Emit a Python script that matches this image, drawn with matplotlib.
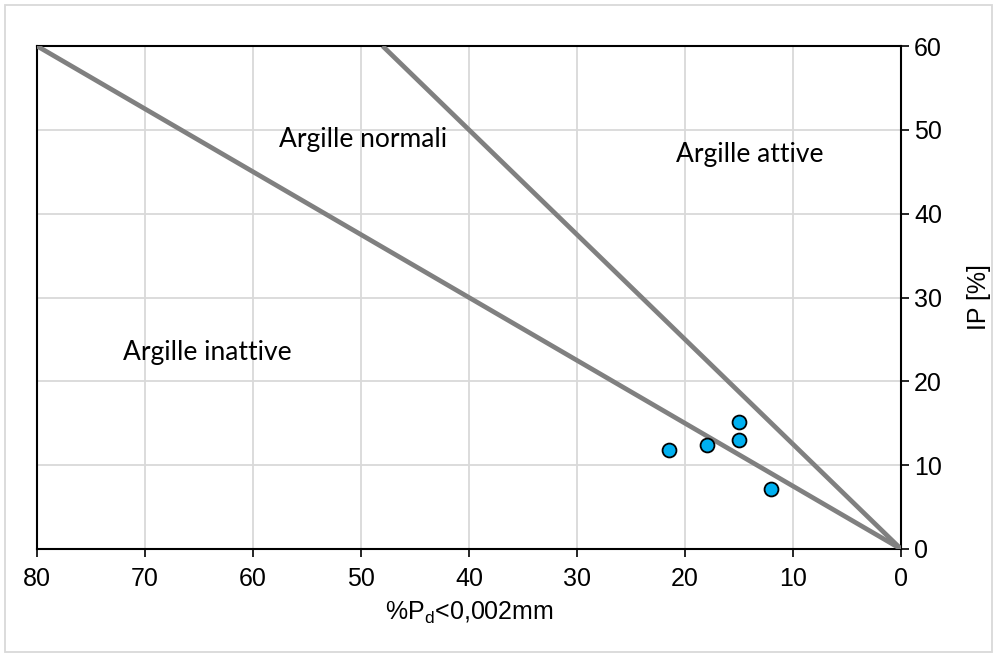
import numpy as np
import matplotlib.pyplot as plt
from matplotlib.patches import Rectangle

plt.rcParams['font.family'] = ['Liberation Sans', 'DejaVu Sans']

# data points (clay fraction %, plasticity index %)
clay = [21.5, 18.0, 15.0, 15.0, 12.0]
ip = [11.8, 12.4, 15.2, 13.0, 7.1]

# activity boundary lines (Skempton): A = 0.75 and A = 1.25
line_low_x = [80, 0]
line_low_y = [60, 0]
line_high_x = [48, 0]
line_high_y = [60, 0]

labels = ["Argille normali", "Argille attive", "Argille inattive"]
label_pos = [(49.8, 48.8), (14.0, 47.0), (64.2, 23.4)]

fig = plt.figure(figsize=(9.97, 6.57), dpi=100)
ax = fig.add_axes([37 / 997, 1 - 549 / 657, (901 - 37) / 997, (549 - 46) / 657])

ax.plot(line_low_x, line_low_y, color='#808080', lw=3.4, solid_capstyle='butt', zorder=3)
ax.plot(line_high_x, line_high_y, color='#808080', lw=3.4, solid_capstyle='butt', zorder=3)
ax.scatter(clay, ip, s=100, color='#00B0F0', edgecolors='black', linewidths=1.3, zorder=4)

for t, (x, y) in zip(labels, label_pos):
    ax.text(x, y, t, ha='center', va='center', fontsize=19, family=['Lato', 'DejaVu Sans'])

ax.set_xlim(80, 0)
ax.set_ylim(0, 60)
ax.set_xticks(np.arange(80, -1, -10))
ax.set_yticks(np.arange(0, 61, 10))
ax.yaxis.tick_right()
ax.yaxis.set_label_position('right')
ax.tick_params(labelsize=18, length=6, width=1.2, direction='out')
ax.tick_params(axis='x', pad=7)
ax.set_xlabel('%P$_\\mathregular{d}$<0,002mm', fontsize=18, labelpad=6)
ax.set_ylabel('IP [%]', fontsize=18, labelpad=18)
ax.grid(True, color='#D9D9D9', lw=1.3)
ax.set_axisbelow(True)
for s in ax.spines.values():
    s.set_color('black')
    s.set_linewidth(1.5)

fig.patches.append(Rectangle((5 / 997, 5 / 657), 987 / 997, 647 / 657, transform=fig.transFigure,
                             fill=False, edgecolor='#D9D9D9', lw=1.3))

fig.savefig('out.png', dpi=100)
